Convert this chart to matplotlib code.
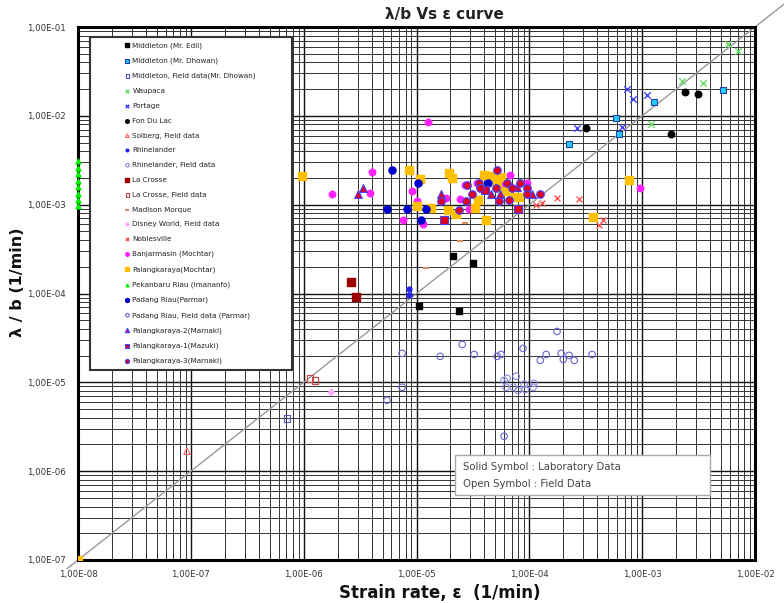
import matplotlib
matplotlib.use("Agg")
import matplotlib.pyplot as plt
from matplotlib.patches import Rectangle
from matplotlib.ticker import LogLocator, FixedLocator

plt.rcParams['font.family'] = ['DejaVu Sans']

# ---------------- data ----------------
edil_x = [2.11e-5, 3.18e-5, 1.05e-5, 2.39e-5]
edil_y = [2.67e-4, 2.23e-4, 7.3e-5, 6.3e-5]

dhowan_x = [2.25e-4, 5.89e-4, 6.25e-4, 1.28e-3, 5.22e-3]
dhowan_y = [4.84e-3, 9.5e-3, 6.3e-3, 1.44e-2, 1.96e-2]

dhowan_field_x = [7.13e-7]
dhowan_field_y = [3.94e-6]

waupaca_x = [5.78e-3, 7.1e-3, 2.27e-3, 3.48e-3, 1.2e-3]
waupaca_y = [6.44e-2, 5.37e-2, 2.47e-2, 2.35e-2, 8.1e-3]

portage_x = [7.36e-4, 8.3e-4, 1.11e-3, 6.65e-4, 2.65e-4]
portage_y = [2.01e-2, 1.55e-2, 1.72e-2, 7.5e-3, 7.3e-3]

fondulac_x = [2.4e-3, 3.13e-3, 1.81e-3, 3.19e-4]
fondulac_y = [1.86e-2, 1.77e-2, 6.3e-3, 7.3e-3]

solberg_x = [9.25e-8]
solberg_y = [1.68e-6]

rhine_x = [8.6e-6, 8.6e-6]
rhine_y = [1.11e-4, 9.5e-5]

rhine_field_x = [5.98e-5, 6.35e-5, 7.64e-5, 9.0e-5, 1.1e-4, 6.22e-5, 7.18e-5, 7.96e-5, 9.2e-5, 1.08e-4]
rhine_field_y = [1.05e-5, 1.11e-5, 1.17e-5, 9.5e-6, 9.75e-6, 8.8e-6, 8.8e-6, 8.1e-6, 8.3e-6, 8.8e-6]

lacrosse_x = [2.63e-6, 2.92e-6]
lacrosse_y = [1.33e-4, 9.25e-5]

lacrosse_field_x = [1.14e-6, 1.26e-6]
lacrosse_field_y = [1.11e-5, 1.05e-5]

madison_x = [2.7e-5, 2.44e-5, 1.22e-5]
madison_y = [6.28e-4, 3.94e-4, 1.96e-4]

disney_x = [1.75e-6]
disney_y = [7.7e-6]

noblesville_x = [1.76e-4, 2.76e-4, 1.3e-4, 1.15e-4, 4.5e-4, 4.16e-4]
noblesville_y = [1.2e-3, 1.17e-3, 1.05e-3, 1.0e-3, 6.8e-4, 5.96e-4]

banjar_x = [1.27e-5, 4.04e-6, 1.79e-6, 3.88e-6, 9.14e-6, 1.01e-5, 7.6e-6, 1.15e-5, 2.7e-5, 3.44e-5,
            4.4e-5, 6.76e-5, 5.74e-5, 7.04e-5, 9.56e-5, 2.44e-5, 2.93e-5, 1.83e-5, 9.6e-4]
banjar_y = [8.6e-3, 2.35e-3, 1.33e-3, 1.36e-3, 1.44e-3, 1.11e-3, 6.8e-4, 6.1e-4, 1.68e-3, 1.77e-3,
            2.01e-3, 2.17e-3, 1.72e-3, 1.55e-3, 1.77e-3, 1.17e-3, 9.0e-4, 1.2e-3, 1.55e-3]

palang_x = [1e-8, 9.7e-7, 8.6e-6, 1.08e-5, 1.01e-5, 1.35e-5, 1.95e-5, 2.07e-5, 1.91e-5, 2.24e-5, 4.14e-5,
            3.31e-5, 3.52e-5, 3.97e-5, 4.77e-5, 5.62e-5, 5.19e-5, 6.1e-5, 7.04e-5, 8.1e-5, 7.96e-5,
            7.67e-4, 3.68e-4]
palang_y = [1e-7, 2.12e-3, 2.47e-3, 1.96e-3, 9.75e-4, 9.25e-4, 2.29e-3, 2.01e-3, 8.8e-4, 7.9e-4, 6.8e-4,
            9.25e-4, 1.14e-3, 2.17e-3, 2.12e-3, 2.06e-3, 1.81e-3, 1.44e-3, 1.23e-3, 1.23e-3, 9.0e-4,
            1.91e-3, 7.3e-4]

pekanbaru_x = [1e-8] * 8
pekanbaru_y = [3.12e-3, 2.6e-3, 2.23e-3, 1.86e-3, 1.59e-3, 1.33e-3, 1.14e-3, 9.75e-4]

padang_x = [6.08e-6, 1.03e-5, 5.48e-6, 8.26e-6, 1.22e-5, 1.1e-5, 4.31e-5]
padang_y = [2.47e-3, 1.77e-3, 9.0e-4, 9.0e-4, 9.0e-4, 6.8e-4, 1.77e-3]

padang_field_x = [1.76e-4, 2.54e-5, 7.45e-6, 1.62e-5, 3.24e-5, 5.19e-5, 5.62e-5, 8.8e-5, 1.41e-4, 1.25e-4,
                  1.91e-4, 2.0e-4, 2.25e-4, 2.5e-4, 3.6e-4, 5.48e-6, 7.45e-6, 5.98e-5]
padang_field_y = [3.74e-5, 2.67e-5, 2.12e-5, 1.96e-5, 2.06e-5, 1.96e-5, 2.06e-5, 2.41e-5, 2.06e-5, 1.77e-5,
                  2.12e-5, 1.81e-5, 2.01e-5, 1.77e-5, 2.06e-5, 6.28e-6, 8.8e-6, 2.47e-6]

palang2_x = [3.37e-6, 3.03e-6, 1.65e-5, 4.58e-5, 5.5e-5, 1.06e-4, 7.8e-5]
palang2_y = [1.55e-3, 1.33e-3, 1.33e-3, 1.33e-3, 1.33e-3, 1.33e-3, 1.59e-3]

palang1_x = [1.76e-5, 7.96e-5, 4.06e-5]
palang1_y = [6.8e-4, 9.0e-4, 1.48e-3]

palang3_x = [5.19e-5, 2.81e-5, 3.59e-5, 3.66e-5, 3.11e-5, 5.08e-5, 6.35e-5, 7.04e-5, 8.28e-5, 9.56e-5,
             9.56e-5, 1.25e-4, 2.39e-5, 1.65e-5, 5.4e-5, 6.62e-5, 2.75e-5]
palang3_y = [2.47e-3, 1.68e-3, 1.77e-3, 1.55e-3, 1.33e-3, 1.55e-3, 1.77e-3, 1.55e-3, 1.77e-3, 1.55e-3,
             1.33e-3, 1.33e-3, 8.8e-4, 1.11e-3, 1.11e-3, 1.14e-3, 1.11e-3]

line_x = [8e-9, 1.8e-2]
line_ratio = 10.0

x_ticks = [1e-8, 1e-7, 1e-6, 1e-5, 1e-4, 1e-3, 1e-2]
x_tick_labels = ["1,00E-08", "1,00E-07", "1,00E-06", "1,00E-05", "1,00E-04", "1,00E-03", "1,00E-02"]
y_ticks = [1e-7, 1e-6, 1e-5, 1e-4, 1e-3, 1e-2, 1e-1]
y_tick_labels = ["1,00E-07", "1,00E-06", "1,00E-05", "1,00E-04", "1,00E-03", "1,00E-02", "1,00E-01"]

# ---------------- figure ----------------
W, H = 784, 603
fig = plt.figure(figsize=(W / 100, H / 100), dpi=100)
ax = fig.add_axes([78 / W, 1 - 560 / H, (755 - 78) / W, (560 - 27) / H])
ax.set_xscale('log')
ax.set_yscale('log')
ax.set_xlim(1e-8, 1e-2)
ax.set_ylim(1e-7, 1e-1)

ax.xaxis.set_major_locator(FixedLocator(x_ticks))
ax.yaxis.set_major_locator(FixedLocator(y_ticks))
ax.xaxis.set_minor_locator(LogLocator(base=10, subs=range(2, 10), numticks=20))
ax.yaxis.set_minor_locator(LogLocator(base=10, subs=range(2, 10), numticks=20))
ax.set_xticklabels(x_tick_labels)
ax.set_yticklabels(y_tick_labels)
ax.tick_params(which='both', length=0)
ax.tick_params(axis='x', pad=7, labelsize=6.2, labelcolor='#333333')
ax.tick_params(axis='y', pad=9, labelsize=6.2, labelcolor='#333333')
ax.grid(True, which='major', color='#111111', lw=1.0)
ax.grid(True, which='minor', color='#333333', lw=0.7)
ax.set_axisbelow(True)
for s in ax.spines.values():
    s.set_linewidth(2.2)
    s.set_color('black')

# diagonal line lambda/b = 10 * strain rate
ax.plot(line_x, [v * line_ratio for v in line_x], color='#999999', lw=1.0, clip_on=False, zorder=2)

ms = 22
series = [
    (edil_x, edil_y, dict(marker='s', c='black', edgecolors='black', s=ms), "Middleton (Mr. Edil)"),
    (dhowan_x, dhowan_y, dict(marker='s', c='#22ccee', edgecolors='#2244aa', s=ms, linewidths=0.8), "Middleton (Mr. Dhowan)"),
    (dhowan_field_x, dhowan_field_y, dict(marker='s', facecolors='none', edgecolors='#5555cc', s=ms, linewidths=0.8), "Middleton, Field data(Mr. Dhowan)"),
    (waupaca_x, waupaca_y, dict(marker='x', c='#66dd66', s=ms, linewidths=1.0), "Waupaca"),
    (portage_x, portage_y, dict(marker='x', c='#4444ff', s=ms, linewidths=1.0), "Portage"),
    (fondulac_x, fondulac_y, dict(marker='o', c='black', s=ms), "Fon Du Lac"),
    (solberg_x, solberg_y, dict(marker='^', facecolors='none', edgecolors='#ff6666', s=ms, linewidths=0.8), "Solberg, Field data"),
    (rhine_x, rhine_y, dict(marker='o', c='#2222ee', s=12), "Rhinelander"),
    (rhine_field_x, rhine_field_y, dict(marker='o', facecolors='none', edgecolors='#8888dd', s=ms, linewidths=0.8), "Rhinelander, Field data"),
    (lacrosse_x, lacrosse_y, dict(marker='s', c='#990000', s=ms + 6), "La Crosse"),
    (lacrosse_field_x, lacrosse_field_y, dict(marker='s', facecolors='none', edgecolors='#cc4444', s=ms, linewidths=0.8), "La Crosse, Field data"),
    (madison_x, madison_y, dict(marker='_', c='#e09060', s=ms, linewidths=1.5), "Madison Morque"),
    (disney_x, disney_y, dict(marker='D', c='#ffaaff', s=10), "Disney World, Field data"),
    (noblesville_x, noblesville_y, dict(marker='x', c='#ff5555', s=ms - 4, linewidths=1.0), "Noblesville"),
    (banjar_x, banjar_y, dict(marker='o', c='#ff22ff', s=ms), "Banjarmasin (Mochtar)"),
    (palang_x, palang_y, dict(marker='s', c='#ffc000', s=ms + 6), "Palangkaraya(Mochtar)"),
    (pekanbaru_x, pekanbaru_y, dict(marker='^', c='#00ee00', s=12, clip_on=False), "Pekanbaru Riau (Imananfo)"),
    (padang_x, padang_y, dict(marker='o', c='#0000cc', s=ms + 4), "Padang Riau(Parmar)"),
    (padang_field_x, padang_field_y, dict(marker='o', facecolors='none', edgecolors='#6666cc', s=ms, linewidths=0.8), "Padang Riau, Field data (Parmar)"),
    (palang2_x, palang2_y, dict(marker='^', c='#dd0022', edgecolors='#4444ff', s=ms + 10, linewidths=0.8), "Palangkaraya-2(Marnaki)"),
    (palang1_x, palang1_y, dict(marker='s', c='#dd0022', edgecolors='#4444ff', s=ms + 4, linewidths=0.8), "Palangkaraya-1(Mazuki)"),
    (palang3_x, palang3_y, dict(marker='o', c='#dd0022', edgecolors='#4444ff', s=ms + 8, linewidths=0.8), "Palangkaraya-3(Marnaki)"),
]

handles = []
for xs, ys, kw, label in series:
    clip = kw.pop('clip_on', True)
    h = ax.scatter(xs, ys, label=label, zorder=4, clip_on=clip, **kw)
    handles.append(h)

# legend box
lx0, ly0, lx1, ly1 = 90, 37, 292, 370
fig.patches.append(Rectangle((lx0 / W, 1 - ly1 / H), (lx1 - lx0) / W, (ly1 - ly0) / H,
                             transform=fig.transFigure, facecolor='white', edgecolor='#333333',
                             lw=1.5, zorder=5))
leg = fig.legend(handles=handles, loc='upper left', bbox_to_anchor=(118 / W, 1 - 35 / H),
                 frameon=False, fontsize=5.2, labelspacing=1.21, handlelength=0.6,
                 handletextpad=0.4, markerscale=0.55, borderpad=0.5, scatterpoints=1)
leg.set_zorder(6)
for t in leg.get_texts():
    t.set_color('#222222')

# annotation box
bx0, by0, bx1, by1 = 455, 455, 710, 495
fig.patches.append(Rectangle((bx0 / W, 1 - by1 / H), (bx1 - bx0) / W, (by1 - by0) / H,
                             transform=fig.transFigure, facecolor='white', edgecolor='#aaaaaa',
                             lw=1.0, zorder=5))
fig.text(463 / W, 1 - 467 / H, "Solid Symbol : Laboratory Data", fontsize=7.3, color='#444444',
         va='center', ha='left', zorder=6)
fig.text(463 / W, 1 - 484 / H, "Open Symbol : Field Data", fontsize=7.3, color='#444444',
         va='center', ha='left', zorder=6)

# titles
fig.text(444 / W, 1 - 15 / H, "λ/b Vs ε curve", fontsize=11, fontweight='bold',
         ha='center', va='center', color='#222222')
fig.text(440 / W, 1 - 593 / H, "Strain rate, ε  (1/min)", fontsize=12, fontweight='bold',
         ha='center', va='center', color='#111111')
fig.text(18 / W, 1 - 282 / H, "λ / b (1/min)", fontsize=11.5, fontweight='bold',
         ha='center', va='center', rotation=90, color='#111111')

fig.savefig('out.png', dpi=100)
